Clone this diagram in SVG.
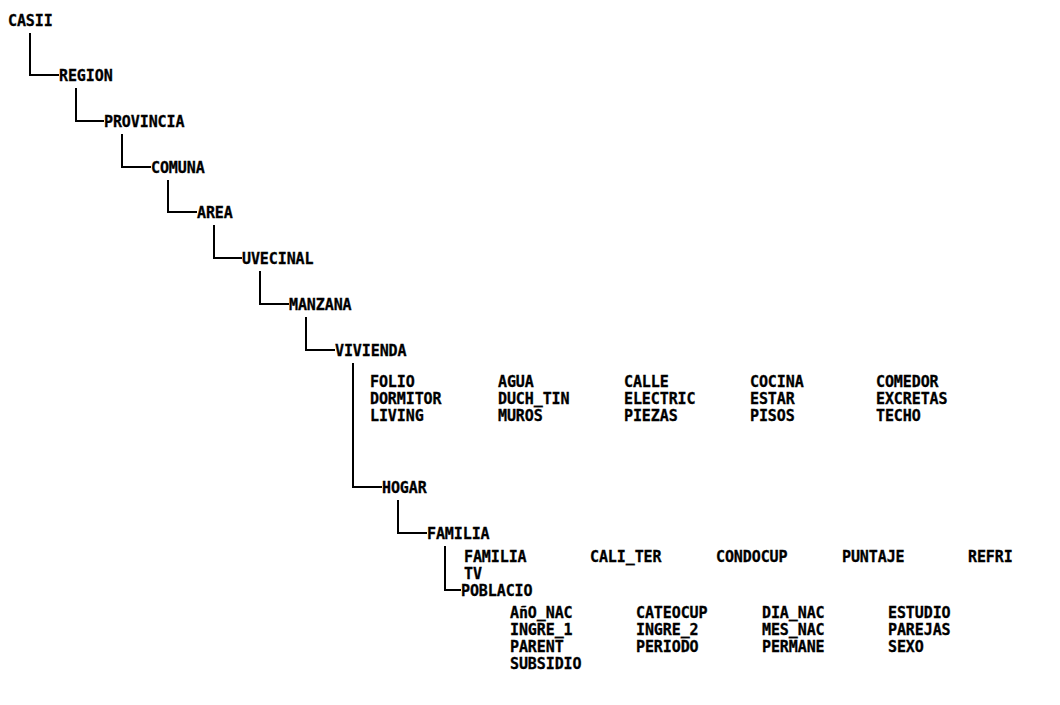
<svg xmlns="http://www.w3.org/2000/svg" width="1060" height="705" viewBox="0 0 1060 705">
<style>
.t{font-family:"DejaVu Sans Mono","Liberation Mono",monospace;font-weight:bold;font-size:15px;letter-spacing:-0.1px;fill:#000;stroke:#000;stroke-width:0.3}
.c{fill:none;stroke:#000;stroke-width:2}
</style>
<rect width="1060" height="705" fill="#fff"/>
<g id="connectors">
<path class="c" d="M30 33V75H59"/>
<path class="c" d="M76 88V121H104"/>
<path class="c" d="M122 134V167H151"/>
<path class="c" d="M168 180V212H197"/>
<path class="c" d="M214 225V258H242"/>
<path class="c" d="M260 271V304H289"/>
<path class="c" d="M306 317V350H335"/>
<path class="c" d="M353 363V487H382"/>
<path class="c" d="M398 500V533H427"/>
<path class="c" d="M445 546V590H461"/>
</g>
<g id="casii"><text class="t" x="8" y="26">CASII</text></g>
<g id="region"><text class="t" x="59" y="81">REGION</text></g>
<g id="provincia"><text class="t" x="104" y="127">PROVINCIA</text></g>
<g id="comuna"><text class="t" x="151" y="173">COMUNA</text></g>
<g id="area"><text class="t" x="197" y="218">AREA</text></g>
<g id="uvecinal"><text class="t" x="242" y="264">UVECINAL</text></g>
<g id="manzana"><text class="t" x="289" y="310">MANZANA</text></g>
<g id="vivienda"><text class="t" x="335" y="356">VIVIENDA</text></g>
<g id="vivienda-fields">
<text class="t" x="370" y="387">FOLIO</text>
<text class="t" x="498" y="387">AGUA</text>
<text class="t" x="624" y="387">CALLE</text>
<text class="t" x="750" y="387">COCINA</text>
<text class="t" x="876" y="387">COMEDOR</text>
<text class="t" x="370" y="404">DORMITOR</text>
<text class="t" x="498" y="404">DUCH_TIN</text>
<text class="t" x="624" y="404">ELECTRIC</text>
<text class="t" x="750" y="404">ESTAR</text>
<text class="t" x="876" y="404">EXCRETAS</text>
<text class="t" x="370" y="421">LIVING</text>
<text class="t" x="498" y="421">MUROS</text>
<text class="t" x="624" y="421">PIEZAS</text>
<text class="t" x="750" y="421">PISOS</text>
<text class="t" x="876" y="421">TECHO</text>
</g>
<g id="hogar"><text class="t" x="382" y="493">HOGAR</text></g>
<g id="familia"><text class="t" x="427" y="539">FAMILIA</text></g>
<g id="familia-fields">
<text class="t" x="464" y="562">FAMILIA</text>
<text class="t" x="590" y="562">CALI_TER</text>
<text class="t" x="716" y="562">CONDOCUP</text>
<text class="t" x="842" y="562">PUNTAJE</text>
<text class="t" x="968" y="562">REFRI</text>
<text class="t" x="464" y="579">TV</text>
</g>
<g id="poblacio"><text class="t" x="461" y="596">POBLACIO</text></g>
<g id="poblacio-fields">
<text class="t" x="510" y="618">AñO_NAC</text>
<text class="t" x="636" y="618">CATEOCUP</text>
<text class="t" x="762" y="618">DIA_NAC</text>
<text class="t" x="888" y="618">ESTUDIO</text>
<text class="t" x="510" y="635">INGRE_1</text>
<text class="t" x="636" y="635">INGRE_2</text>
<text class="t" x="762" y="635">MES_NAC</text>
<text class="t" x="888" y="635">PAREJAS</text>
<text class="t" x="510" y="652">PARENT</text>
<text class="t" x="636" y="652">PERIODO</text>
<text class="t" x="762" y="652">PERMANE</text>
<text class="t" x="888" y="652">SEXO</text>
<text class="t" x="510" y="669">SUBSIDIO</text>
</g>
</svg>
